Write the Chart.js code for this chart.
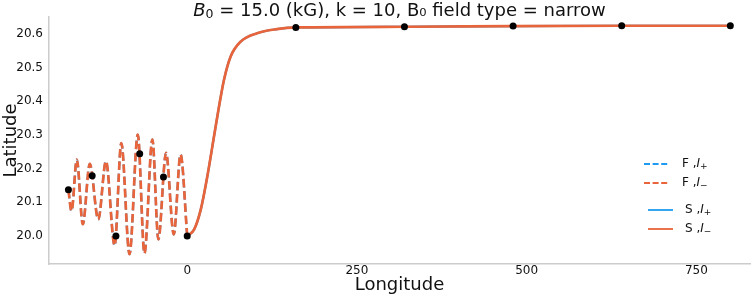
<!DOCTYPE html>
<html>
<head>
<meta charset="utf-8">
<script src="https://cdn.jsdelivr.net/npm/chart.js@4/dist/chart.umd.min.js"></script>
<style>
html, body { margin: 0; padding: 0; background: #fff; }
#wrap { width: 754px; height: 297px; }
</style>
</head>
<body>
<div id="wrap"><canvas id="mycanvas" width="754" height="297"></canvas></div>
<script>
// sample markers (black dots)
var pointLon = [-175, -140, -105, -70, -35, 0, 160, 320, 480, 640, 800];
var pointLat = [20.137, 20.179, 20.0, 20.244, 20.175, 20.0, 20.619, 20.621, 20.623, 20.624, 20.624];

// F branch (dashed)
var fLon = [-175, -170.4, -162.6, -153.8, -143.5, -131, -119.7, -106.9, -97.1, -85, -72.8, -63, -51.3, -42.5, -31.2, -19.8, -9.8, 0];
var fLat = [20.137, 20.074, 20.227, 20.035, 20.214, 20.049, 20.222, 19.972, 20.276, 19.946, 20.301, 19.949, 20.286, 19.99, 20.247, 20.005, 20.242, 20.0];

// S branch (solid)
var sLon = [0, 10.3, 20, 29.7, 39.5, 46.9, 54.2, 64, 78.7, 103, 132, 160, 320, 480, 640, 800];
var sLat = [20.0, 20.02, 20.079, 20.178, 20.296, 20.385, 20.464, 20.533, 20.577, 20.602, 20.614, 20.619, 20.621, 20.623, 20.624, 20.624];

var xTicks = [0, 250, 500, 750];
var yTicks = [20.0, 20.1, 20.2, 20.3, 20.4, 20.5, 20.6];

var ORANGE = '#e8643a';
var BLUE = '#1e9bf0';
var FONT = '"DejaVu Sans", sans-serif';

function pairs(xs, ys) {
    return xs.map(function(x, i) { return {x: x, y: ys[i]}; });
}

// draw a row of text pieces with different fonts / offsets
function drawRuns(ctx, runs, x, y, center) {
    var w = 0;
    runs.forEach(function(r) { ctx.font = r.font; w += ctx.measureText(r.text).width; });
    var cx = center ? x - w / 2 : x;
    runs.forEach(function(r) {
        ctx.font = r.font;
        ctx.fillText(r.text, cx, y + (r.dy || 0));
        cx += ctx.measureText(r.text).width;
    });
}

var textPlugin = {
    id: 'texts',
    afterDraw: function(chart) {
        var ctx = chart.ctx;
        var area = chart.chartArea;
        ctx.save();
        ctx.fillStyle = '#111';
        ctx.textBaseline = 'middle';
        ctx.textAlign = 'left';

        // title
        drawRuns(ctx, [
            {text: 'B', font: 'italic 18px ' + FONT},
            {text: '0', font: '12.5px ' + FONT, dy: 4},
            {text: ' = 15.0 (kG), k = 10, B\u2080 field type = narrow', font: '18px ' + FONT}
        ], (area.left + area.right) / 2, 11, true);

        // axis titles
        ctx.font = '18px ' + FONT;
        ctx.textAlign = 'center';
        ctx.fillText('Longitude', (area.left + area.right) / 2, 285);
        ctx.save();
        ctx.translate(11, (area.top + area.bottom) / 2);
        ctx.rotate(-Math.PI / 2);
        ctx.fillText('Latitude', 0, 0);
        ctx.restore();
        ctx.textAlign = 'left';

        // legend
        var items = [
            {name: 'F ,', sign: '+', color: BLUE, dash: [6, 2.6], y: 164, x0: 644, x1: 668, tx: 682},
            {name: 'F ,', sign: '\u2212', color: ORANGE, dash: [6, 2.6], y: 183, x0: 644, x1: 668, tx: 682},
            {name: 'S ,', sign: '+', color: BLUE, dash: [], y: 210, x0: 648, x1: 673, tx: 685},
            {name: 'S ,', sign: '\u2212', color: ORANGE, dash: [], y: 229, x0: 648, x1: 673, tx: 685}
        ];
        items.forEach(function(it) {
            ctx.beginPath();
            ctx.setLineDash(it.dash);
            ctx.lineWidth = 1.8;
            ctx.strokeStyle = it.color;
            ctx.moveTo(it.x0, it.y);
            ctx.lineTo(it.x1, it.y);
            ctx.stroke();
            ctx.setLineDash([]);
            drawRuns(ctx, [
                {text: it.name, font: '12px ' + FONT},
                {text: 'I', font: 'italic 12px ' + FONT},
                {text: it.sign, font: '9px ' + FONT, dy: 3}
            ], it.tx, it.y, false);
        });
        ctx.restore();
    }
};

var ctx = document.getElementById('mycanvas');
var myChart = new Chart(ctx, {
    type: 'line',
    data: {
        datasets: [{
            label: 'points',
            data: pairs(pointLon, pointLat),
            showLine: false,
            pointRadius: 3.5,
            pointBackgroundColor: '#000',
            pointBorderColor: '#000',
            pointBorderWidth: 0
        }, {
            label: 'F ,I-',
            data: pairs(fLon, fLat),
            borderColor: ORANGE,
            borderWidth: 2.7,
            borderDash: [8.5, 3.7],
            pointRadius: 0,
            cubicInterpolationMode: 'monotone'
        }, {
            label: 'S ,I-',
            data: pairs(sLon, sLat),
            borderColor: ORANGE,
            borderWidth: 2.7,
            pointRadius: 0,
            cubicInterpolationMode: 'monotone'
        }, {
            label: 'F ,I+',
            data: pairs(fLon, fLat),
            borderColor: BLUE,
            borderWidth: 2.2,
            borderDash: [8.5, 3.7],
            pointRadius: 0,
            cubicInterpolationMode: 'monotone'
        }, {
            label: 'S ,I+',
            data: pairs(sLon, sLat),
            borderColor: BLUE,
            borderWidth: 2.2,
            pointRadius: 0,
            cubicInterpolationMode: 'monotone'
        }]
    },
    options: {
        responsive: false,
        animation: false,
        devicePixelRatio: 1,
        layout: { padding: { top: 17, left: 0, right: 0, bottom: 0 } },
        plugins: { legend: { display: false }, tooltip: { enabled: false } },
        scales: {
            x: {
                type: 'linear',
                min: -203.6,
                max: 829,
                grid: { display: false, drawTicks: false },
                border: { display: true, color: '#cccccc', width: 1.5 },
                ticks: { font: { family: 'DejaVu Sans', size: 12 }, color: '#111', padding: 0 },
                afterBuildTicks: function(s) { s.ticks = xTicks.map(function(v) { return {value: v}; }); },
                afterFit: function(s) { s.height = 33; }
            },
            y: {
                type: 'linear',
                min: 19.917,
                max: 20.65,
                grid: { display: false, drawTicks: false },
                border: { display: true, color: '#cccccc', width: 1.5 },
                ticks: {
                    font: { family: 'DejaVu Sans', size: 12 }, color: '#111', padding: 6,
                    callback: function(v) { return v.toFixed(1); }
                },
                afterBuildTicks: function(s) { s.ticks = yTicks.map(function(v) { return {value: v}; }); },
                afterFit: function(s) { s.width = 49; }
            }
        }
    },
    plugins: [textPlugin]
});
</script>
</body>
</html>
